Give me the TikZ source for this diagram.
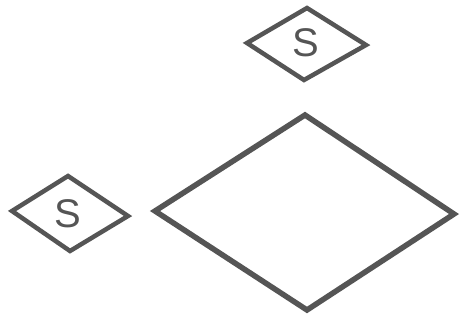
\documentclass[tikz,border=0pt]{standalone}
\usepackage{fontspec}
\setsansfont{Liberation Sans}
\definecolor{ink}{HTML}{555555}
\begin{document}
\begin{tikzpicture}[x=1pt,y=-1pt,
  edge/.style={draw=ink,line width=4.5pt,line join=miter},
  bigedge/.style={draw=ink,line width=5.5pt,line join=miter},
  lab/.style={text=ink,font=\sffamily\fontsize{40}{40}\selectfont,inner sep=0pt}]
\useasboundingbox (0,0) rectangle (461,322);
% top small diamond
\draw[edge] (247,43) -- (307,8) -- (366,45) -- (304,80) -- cycle;
\node[lab] (s1) at (306,43) {S};
% left small diamond
\draw[edge] (12,211) -- (68,176) -- (128,216) -- (70,251) -- cycle;
\node[lab] (s2) at (68,214) {S};
% large diamond
\draw[bigedge] (155,211) -- (305,115) -- (454,214) -- (307,310) -- cycle;
\end{tikzpicture}
\end{document}
